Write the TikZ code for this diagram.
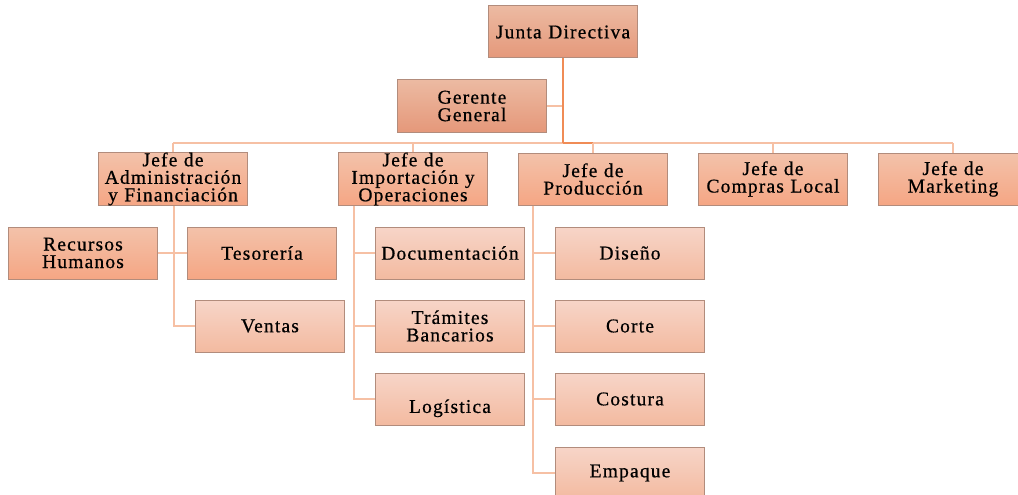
\documentclass[tikz,border=0pt]{standalone}
\usepackage{fontspec}
\setmainfont[LetterSpace=6,FakeBold=0.6]{Liberation Serif}
\usetikzlibrary{calc}

\definecolor{bossTop}{RGB}{236,186,162}
\definecolor{bossBot}{RGB}{229,152,122}
\definecolor{headTop}{RGB}{243,194,170}
\definecolor{headBot}{RGB}{245,166,132}
\definecolor{unitTop}{RGB}{247,213,200}
\definecolor{unitBot}{RGB}{243,186,160}
\definecolor{boxline}{RGB}{178,140,124}
\definecolor{linemain}{RGB}{240,140,86}
\definecolor{linesub}{RGB}{246,192,164}

\tikzset{
	box/.style={draw=boxline, line width=1pt, minimum width=149pt, minimum height=52pt,
		inner sep=0pt, text width=147pt, align=center,
		font=\fontsize{19.5}{17.5}\selectfont},
	boss/.style={box, top color=bossTop, bottom color=bossBot},
	head/.style={box, top color=headTop, bottom color=headBot},
	unit/.style={box, top color=unitTop, bottom color=unitBot},
	mainline/.style={draw=linemain, line width=2.2pt},
	subline/.style={draw=linesub, line width=1.6pt}
}

\begin{document}
\begin{tikzpicture}[x=1pt,y=-1pt]
	\useasboundingbox (0,0) rectangle (1018,495);

	% top
	\node[boss] (jd) at (563,32) {Junta Directiva};
	\node[boss] (gg) at (472,106) {Gerente\\General};
	\coordinate (bus) at (563,143);

	% jefes
	\node[head] (adm) at (173,179) {Jefe de\\Administraci\'on\\y Financiaci\'on};
	\node[head] (imp) at (413,179) {Jefe de\\Importaci\'on y\\Operaciones};
	\node[head] (prod) at (593,179) {Jefe de\\Producci\'on};
	\node[head] (comp) at (773,179) {Jefe de\\Compras Local};
	\node[head] (mkt) at (953,179) {Jefe de\\Marketing};

	% administracion
	\node[head] (rh) at (83,253) {Recursos\\Humanos};
	\node[head] (tes) at (262,253) {Tesorer\'ia};
	\node[unit] (ven) at (270,326) {Ventas};

	% importacion
	\node[unit] (doc) at (450,253) {Documentaci\'on};
	\node[unit] (tram) at (450,326) {Tr\'amites\\Bancarios};
	\node[unit] (log) at (450,399) {\strut\\Log\'istica};

	% produccion
	\node[unit] (dis) at (630,253) {Dise\~no};
	\node[unit] (cor) at (630,326) {Corte};
	\node[unit] (cos) at (630,399) {Costura};
	\node[unit] (emp) at (630,473) {Empaque};

	% lines
	\draw[subline] (gg.east) -- (gg.east -| jd.south);
	\draw[subline] (adm.north |- bus) -- (mkt.north |- bus);
	\draw[mainline] (bus) -- (prod.north |- bus);
	\draw[mainline] (jd.south) -- (bus);
	\foreach \n in {adm,imp,prod,comp,mkt}
		\draw[subline] (\n.north |- bus) -- (\n.north);

	\coordinate (admT) at ([xshift=1pt]adm.south);
	\draw[subline] (admT) |- (ven.west);
	\draw[subline] (rh.east) -- (tes.west);

	\coordinate (impT) at ([xshift=16pt]imp.south west);
	\draw[subline] (impT) |- (log.west);
	\foreach \n in {doc,tram}
		\draw[subline] (impT |- \n.west) -- (\n.west);

	\coordinate (prodT) at ([xshift=15pt]prod.south west);
	\draw[subline] (prodT) |- (emp.west);
	\foreach \n in {dis,cor,cos}
		\draw[subline] (prodT |- \n.west) -- (\n.west);
\end{tikzpicture}
\end{document}
